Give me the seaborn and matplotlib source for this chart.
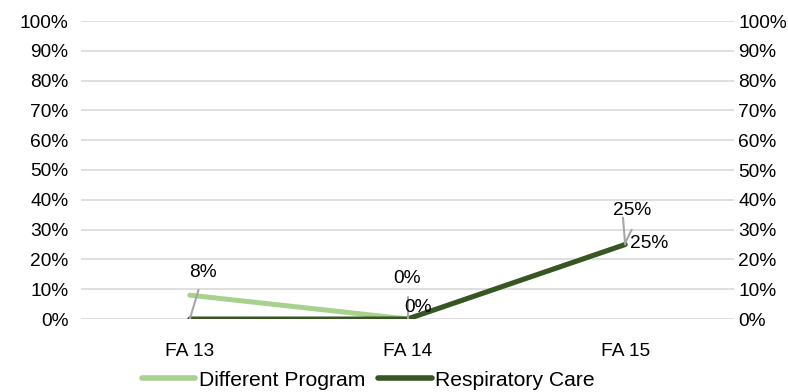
import matplotlib
matplotlib.use("Agg")
import matplotlib.pyplot as plt
import seaborn as sns
import pandas as pd
from matplotlib.lines import Line2D

categories = ["FA 13", "FA 14", "FA 15"]
different_program = [8, 0, 25]
respiratory_care = [0, 0, 25]
series_names = ["Different Program", "Respiratory Care"]
colors = ["#A9D18E", "#375623"]

df = pd.DataFrame({
    "term": categories * 2,
    "pos": list(range(len(categories))) * 2,
    "value": different_program + respiratory_care,
    "series": [series_names[0]] * 3 + [series_names[1]] * 3,
})

sns.set_theme(style="white")
plt.rcParams["font.family"] = ["Liberation Sans", "DejaVu Sans"]
plt.rcParams["text.color"] = "black"

FS = 13.8
fig = plt.figure(figsize=(7.88, 3.92), dpi=100)
ax = fig.add_axes([81 / 788, 1 - 319 / 392, (734 - 81) / 788, (319 - 21) / 392])

sns.lineplot(data=df, x="pos", y="value", hue="series", palette=colors,
             linewidth=3.6, ax=ax, legend=False, sort=False)

ax.set_xlim(-0.5, 2.5)
ax.set_ylim(0, 100)
ax.set_yticks(range(0, 101, 10))
ax.set_yticklabels([f"{v}%" for v in range(0, 101, 10)], fontsize=FS)
ax.set_xticks(range(3))
ax.set_xticklabels(categories, fontsize=FS)
ax.set_xlabel("")
ax.set_ylabel("")
ax.grid(axis="y", color="#D9D9D9", linewidth=1.2)
ax.set_axisbelow(True)
for s in ax.spines.values():
    s.set_visible(False)
ax.tick_params(axis="y", length=0, pad=9, colors="black")
ax.tick_params(axis="x", length=0, pad=17, colors="black")

ax2 = ax.twinx()
ax2.set_ylim(0, 100)
ax2.set_yticks(range(0, 101, 10))
ax2.set_yticklabels([f"{v}%" for v in range(0, 101, 10)], fontsize=FS)
ax2.tick_params(axis="y", length=0, pad=3, colors="black")
for s in ax2.spines.values():
    s.set_visible(False)
ax2.grid(False)

# data labels with leader lines
lead = "#A6A6A6"
def label(x, y, text, tx, ty, lx0, ly0):
    ax.annotate(text, xy=(x, y), xytext=(tx, ty), textcoords="data",
                ha="center", va="center", fontsize=FS, color="black", zorder=5)
    ax.plot([lx0, x], [ly0, y], color=lead, linewidth=1.5, zorder=4)

label(0, respiratory_care[0], f"{different_program[0]}%", 0.06, 15.5, 0.04, 9.8)
label(1, respiratory_care[1], f"{different_program[1]}%", 1.0, 13.5, 1.0, 7.5)
ax.annotate(f"{respiratory_care[1]}%", xy=(1.05, 3.8), ha="center", va="center",
            fontsize=FS, color="black", zorder=5)
label(2, respiratory_care[2], f"{different_program[2]}%", 2.03, 36.5, 1.99, 34)
ax.plot([2.0, 2.03], [25.5, 30], color=lead, linewidth=1.5, zorder=4)
ax.annotate(f"{respiratory_care[2]}%", xy=(2.11, 25.5), ha="center", va="center",
            fontsize=FS, color="black", zorder=5)

# legend
handles = [Line2D([0], [0], color=c, linewidth=4) for c in colors]
leg = fig.legend(handles, series_names, loc="center", bbox_to_anchor=(0.467, 1 - 380 / 392),
                 ncol=2, frameon=False, fontsize=15.2, handlelength=2.55,
                 handletextpad=0.15, columnspacing=0.6, borderaxespad=0, borderpad=0)
for t in leg.get_texts():
    t.set_color("black")

fig.savefig("out.png", dpi=100)
